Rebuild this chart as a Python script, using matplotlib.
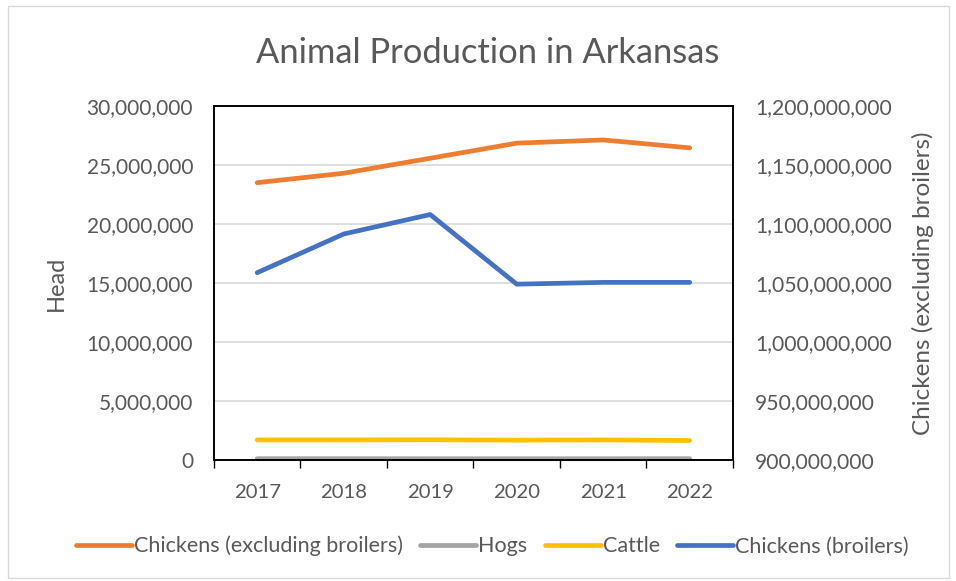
import matplotlib.pyplot as plt
from matplotlib.patches import Rectangle
from matplotlib.ticker import FuncFormatter, FixedLocator

# Data
years = ["2017", "2018", "2019", "2020", "2021", "2022"]
chickens_excl = [23500000, 24300000, 25570000, 26850000, 27120000, 26450000]
hogs = [110000, 110000, 105000, 105000, 105000, 110000]
cattle = [1700000, 1700000, 1710000, 1680000, 1700000, 1650000]
broilers = [1058700000, 1091500000, 1108000000, 1049000000, 1050500000, 1050500000]

plt.rcParams["font.family"] = ["Lato", "DejaVu Sans"]
text_color = "#595959"

fig = plt.figure(figsize=(9.56, 5.81), dpi=100)
fig.patches.append(Rectangle((0.008, 0.006), 0.985, 0.983, transform=fig.transFigure,
                             fill=False, edgecolor="#D9D9D9", linewidth=1))

ax = fig.add_axes([0.2238, 0.2083, 0.5429, 0.6093])
ax2 = ax.twinx()

x = range(len(years))
lw = 3.4
l1, = ax.plot(x, chickens_excl, color="#ED7D31", linewidth=lw, solid_capstyle="round",
              label="Chickens (excluding broilers)")
l2, = ax.plot(x, hogs, color="#A5A5A5", linewidth=lw, solid_capstyle="round",
              label="Hogs", clip_on=False)
l3, = ax.plot(x, cattle, color="#FFC000", linewidth=lw, solid_capstyle="round",
              label="Cattle")
l4, = ax2.plot(x, broilers, color="#4472C4", linewidth=lw, solid_capstyle="round",
               label="Chickens (broilers)")

ax.set_xlim(-0.5, len(years) - 0.5)
ax.set_ylim(0, 30000000)
ax2.set_ylim(900000000, 1200000000)
ax.set_yticks(range(0, 30000001, 5000000))
ax2.set_yticks(range(900000000, 1200000001, 50000000))

fmt = FuncFormatter(lambda v, p: f"{int(v):,}")
ax.yaxis.set_major_formatter(fmt)
ax2.yaxis.set_major_formatter(fmt)

ax.set_xticks(list(x))
ax.set_xticklabels(years)
ax.xaxis.set_minor_locator(FixedLocator([i - 0.5 for i in range(len(years) + 1)]))
ax.tick_params(axis="x", which="major", length=0, pad=17, labelsize=14.6, labelcolor=text_color)
ax.tick_params(axis="x", which="minor", length=6, width=1, direction="out", color="black")
ax.tick_params(axis="y", length=0, pad=15, labelsize=15, labelcolor=text_color)
ax2.tick_params(axis="y", length=0, pad=16, labelsize=15.2, labelcolor=text_color)

ax.grid(axis="y", color="#D9D9D9", linewidth=1.2)
ax.set_axisbelow(True)
for sp in list(ax.spines.values()) + list(ax2.spines.values()):
    sp.set_color("black")
    sp.set_linewidth(1.2)

ax.set_ylabel("Head", fontsize=17, color=text_color, labelpad=14)
ax2.set_ylabel("Chickens (excluding broilers)", fontsize=17.5, color=text_color, labelpad=14)

fig.suptitle("Animal Production in Arkansas", fontsize=24.8, color=text_color,
             x=0.51, y=0.908, va="center")

fig.legend(handles=[l1, l2, l3, l4], loc="center", bbox_to_anchor=(0.515, 0.06), ncol=4,
           frameon=False, fontsize=15.5, labelcolor=text_color, handlelength=2.6,
           handletextpad=0.1, columnspacing=0.8)

fig.savefig("out.png", dpi=100)
